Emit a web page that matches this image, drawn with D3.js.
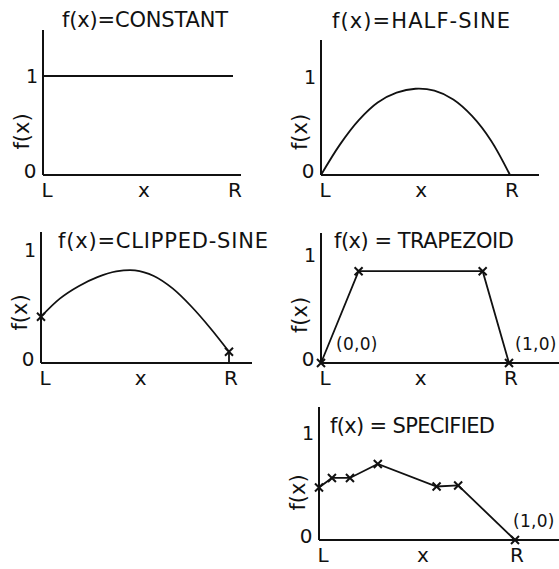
<!DOCTYPE html>
<html>
<head>
<meta charset="utf-8">
<script src="https://cdn.jsdelivr.net/npm/d3@7/dist/d3.min.js"></script>
<style>
  html, body { margin: 0; padding: 0; background: #fff; }
  svg text { font-family: "DejaVu Sans", "Liberation Sans", sans-serif; fill: #111; }
</style>
</head>
<body>
<svg id="chart" width="559" height="569"></svg>
<script>
// Shape functions f(x) on the normalised interval L..R (0..1)
const titles = ["f(x)=CONSTANT", "f(x)=HALF-SINE", "f(x)=CLIPPED-SINE", "f(x) = TRAPEZOID", "f(x) = SPECIFIED"];
const xLabels = ["L", "x", "R"];
const yTickLabels = ["0", "1"];
const yAxisLabel = "f(x)";

const constantX = [0, 1];
const constantY = [1, 1];

const halfSineX = [0, 0.1, 0.2, 0.3, 0.4, 0.5, 0.6, 0.7, 0.8, 0.9, 1];
const halfSineY = [0, 0.31, 0.56, 0.74, 0.84, 0.88, 0.86, 0.77, 0.60, 0.35, 0];

const clippedX = [0, 0.1, 0.2, 0.3, 0.4, 0.5, 0.6, 0.7, 0.8, 0.9, 1];
const clippedY = [0.41, 0.57, 0.68, 0.76, 0.81, 0.82, 0.77, 0.66, 0.50, 0.31, 0.10];

const trapX = [0, 0.20, 0.86, 1];
const trapY = [0, 0.85, 0.85, 0];
const trapNotes = [{ i: 0, text: "(0,0)" }, { i: 3, text: "(1,0)" }];

const specX = [0, 0.066, 0.158, 0.30, 0.60, 0.71, 1];
const specY = [0.49, 0.58, 0.58, 0.71, 0.50, 0.51, 0];
const specNotes = [{ i: 6, text: "(1,0)" }];

const svg = d3.select("#chart");
const ink = "#111";

// Pixel frame of each small plot: origin, R position, height of f=1, axis extents,
// title box and horizontal offsets of the coordinate notes
const panels = [
  { ox: 43,  oy: 175, xr: 233, y1: 76,  top: 30,  end: 241, tx: 62,  ty: 27,  tw: 166,
    xs: constantX, ys: constantY, curve: d3.curveLinear, marks: [], notes: [], noteDx: [] },
  { ox: 321, oy: 175, xr: 510, y1: 77,  top: 40,  end: 539, tx: 332, ty: 28,  tw: 178,
    xs: halfSineX, ys: halfSineY, curve: d3.curveCatmullRom, marks: [], notes: [], noteDx: [] },
  { ox: 41,  oy: 363, xr: 229, y1: 250, top: 232, end: 252, tx: 58,  ty: 248, tw: 210,
    xs: clippedX, ys: clippedY, curve: d3.curveCatmullRom, marks: [0, clippedX.length - 1],
    notes: [], noteDx: [], drop: true },
  { ox: 321, oy: 363, xr: 509, y1: 255, top: 233, end: 559, tx: 334, ty: 248, tw: 180,
    xs: trapX, ys: trapY, curve: d3.curveLinear, marks: [0, 1, 2, 3], notes: trapNotes, noteDx: [15, 6] },
  { ox: 319, oy: 540, xr: 515, y1: 433, top: 407, end: 559, tx: 330, ty: 433, tw: 165,
    xs: specX, ys: specY, curve: d3.curveLinear, marks: d3.range(specX.length), notes: specNotes, noteDx: [-2] }
];

panels.forEach((p, k) => {
  const g = svg.append("g");
  const x = d3.scaleLinear().domain([0, 1]).range([p.ox, p.xr]);
  const y = d3.scaleLinear().domain([0, 1]).range([p.oy, p.y1]);

  // axes
  g.append("line").attr("x1", p.ox).attr("x2", p.ox).attr("y1", p.top).attr("y2", p.oy)
    .attr("stroke", ink).attr("stroke-width", 2);
  g.append("line").attr("x1", p.ox).attr("x2", p.end).attr("y1", p.oy).attr("y2", p.oy)
    .attr("stroke", ink).attr("stroke-width", 2);

  // y tick labels 0 and 1
  g.append("text").attr("x", p.ox - 13).attr("y", y(0) + 3).attr("text-anchor", "middle")
    .attr("font-size", 20).text(yTickLabels[0]);
  g.append("text").attr("x", p.ox - 11).attr("y", y(1) + 7).attr("text-anchor", "middle")
    .attr("font-size", 19).text(yTickLabels[1]);

  // x labels L, x, R
  const xl = [0, 0.52, 1];
  xLabels.forEach((t, i) => {
    g.append("text").attr("x", x(xl[i]) + (i === 0 ? 4 : 2)).attr("y", p.oy + 22)
      .attr("text-anchor", "middle").attr("font-size", 20).text(t);
  });

  // rotated f(x)
  g.append("text")
    .attr("transform", `translate(${p.ox - 14},${(y(0) + y(1)) / 2 + 6}) rotate(-90)`)
    .attr("text-anchor", "middle").attr("font-size", 21).text(yAxisLabel);

  // title, spread over its box
  g.append("text").attr("x", p.tx).attr("y", p.ty)
    .attr("font-size", 21).attr("textLength", p.tw).attr("lengthAdjust", "spacing")
    .text(titles[k]);

  // function curve
  const pts = p.xs.map((v, i) => [v, p.ys[i]]);
  g.append("path").datum(pts)
    .attr("d", d3.line().x(d => x(d[0])).y(d => y(d[1])).curve(p.curve))
    .attr("fill", "none").attr("stroke", ink).attr("stroke-width", 1.8);

  if (p.drop) {
    const j = pts.length - 1;
    g.append("line").attr("x1", x(pts[j][0])).attr("x2", x(pts[j][0]))
      .attr("y1", y(pts[j][1])).attr("y2", y(0)).attr("stroke", ink).attr("stroke-width", 1.8);
  }

  // X markers on the defining points
  p.marks.forEach(i => {
    const cx = x(pts[i][0]), cy = y(pts[i][1]), s = 4;
    g.append("path")
      .attr("d", `M${cx - s},${cy - s}L${cx + s},${cy + s}M${cx - s},${cy + s}L${cx + s},${cy - s}`)
      .attr("stroke", ink).attr("stroke-width", 2).attr("fill", "none");
  });

  // coordinate notes
  p.notes.forEach((n, j) => {
    g.append("text").attr("x", x(pts[n.i][0]) + p.noteDx[j]).attr("y", y(pts[n.i][1]) - 13)
      .attr("font-size", 17).attr("letter-spacing", 0.3).text(n.text);
  });
});
</script>
</body>
</html>
